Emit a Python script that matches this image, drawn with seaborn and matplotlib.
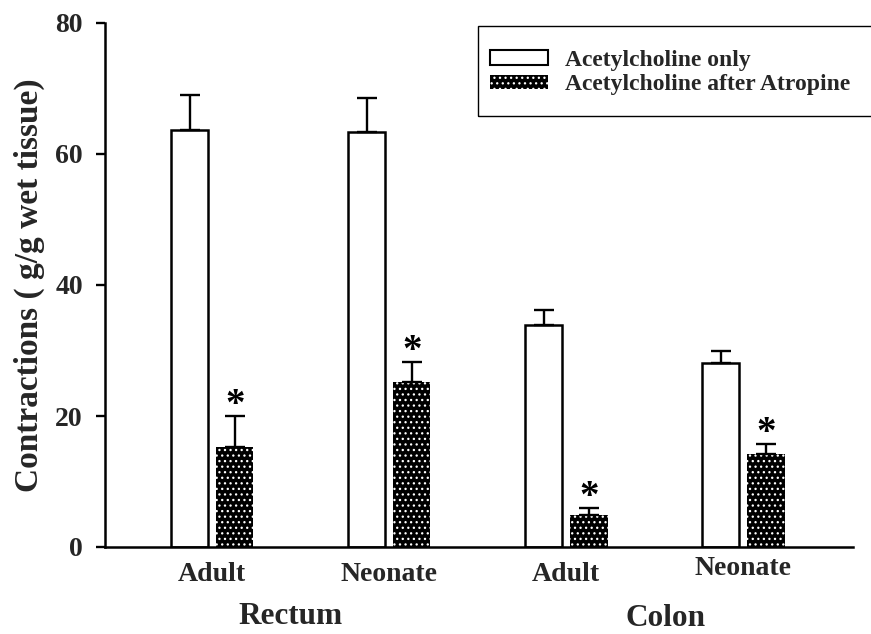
import matplotlib
matplotlib.use("Agg")
import matplotlib.pyplot as plt
import seaborn as sns
import pandas as pd
from matplotlib.patches import Patch, Rectangle

# ---- data ----
categories = ["Rectum Adult", "Rectum Neonate", "Colon Adult", "Colon Neonate"]
tick_labels = ["Adult", "Neonate", "Adult", "Neonate"]
series_names = ["Acetylcholine only", "Acetylcholine after Atropine"]
ach_only = [63.7, 63.4, 33.9, 28.1]
ach_only_err = [5.3, 5.1, 2.3, 1.8]
ach_atropine = [15.3, 25.2, 4.9, 14.2]
ach_atropine_err = [4.7, 3.0, 1.0, 1.5]
significant = [True, True, True, True]
group_names = ["Rectum", "Colon"]
group_centers = [0.44, 2.56]
y_ticks = [0, 20, 40, 60, 80]
y_label = "Contractions ( g/g wet tissue)"

df = pd.DataFrame({
    "segment": categories * 2,
    "treatment": [series_names[0]] * 4 + [series_names[1]] * 4,
    "value": ach_only + ach_atropine,
})

sns.set_theme(style="ticks")
plt.rcParams["font.family"] = ["Liberation Serif", "DejaVu Serif"]
plt.rcParams["font.weight"] = "bold"
plt.rcParams["hatch.linewidth"] = 0.9

W, H = 871, 634
fig = plt.figure(figsize=(W / 100, H / 100), dpi=100)
ax = fig.add_axes([105 / W, 87 / H, (853 - 105) / W, (547 - 23) / H])

sns.barplot(data=df, x="segment", y="value", hue="treatment", order=categories,
            hue_order=series_names, palette=["white", "black"], errorbar=None,
            width=0.51, gap=0.17, edgecolor="black", linewidth=1.5,
            legend=False, ax=ax, saturation=1)

open_bars, hatched_bars = ax.containers[0], ax.containers[1]
for p in hatched_bars:
    p.set_facecolor("black")
    p.set_edgecolor("white")
    p.set_linewidth(0)
    p.set_hatch("...")
for p in open_bars:
    p.set_facecolor("white")
    p.set_edgecolor("black")
    p.set_linewidth(1.8)

def bar_x(p):
    return p.get_x() + p.get_width() / 2

for bars, vals, errs in [(open_bars, ach_only, ach_only_err),
                          (hatched_bars, ach_atropine, ach_atropine_err)]:
    xs = [bar_x(p) for p in bars]
    ax.errorbar(xs, vals, yerr=[[0] * len(errs), errs], fmt="none",
                ecolor="black", elinewidth=1.7, capsize=7, capthick=1.7, zorder=1)

for p, v, e, s in zip(hatched_bars, ach_atropine, ach_atropine_err, significant):
    if s:
        ax.text(bar_x(p), v + e + 0.2, "*", ha="center", va="baseline",
                fontsize=28, fontweight="bold", color="black")

ax.set_xlim(-0.605, 3.62)
ax.set_ylim(0, 80)
ax.set_yticks(y_ticks)
ax.set_yticklabels([str(t) for t in y_ticks], fontsize=20, fontweight="bold")
ax.set_xticks(range(len(categories)))
ax.set_xticklabels(tick_labels, fontsize=20, fontweight="bold")
ax.tick_params(axis="y", length=6.5, width=1.7, pad=9.5, color="black")
ax.tick_params(axis="x", length=0, pad=11)
ax.get_xticklabels()[3].set_y(0.012)
ax.set_xlabel("")
ax.set_ylabel(y_label, fontsize=24, fontweight="bold", labelpad=7)
for side in ["top", "right"]:
    ax.spines[side].set_visible(False)
for side in ["left", "bottom"]:
    ax.spines[side].set_linewidth(1.8)
    ax.spines[side].set_color("black")

for name, cx, gy in zip(group_names, group_centers, [-0.133, -0.137]):
    ax.text(cx, gy, name, transform=ax.get_xaxis_transform(), ha="center",
            va="center", fontsize=22.5, fontweight="bold")

handles = [Patch(facecolor="white", edgecolor="black", linewidth=1.5),
           Patch(facecolor="black", edgecolor="white", linewidth=0, hatch="...")]
leg = fig.legend(handles, series_names, loc="upper left",
                 bbox_to_anchor=(478 / W, 1 - 38 / H), bbox_transform=fig.transFigure,
                 frameon=False, borderaxespad=0, borderpad=0.5,
                 labelspacing=0.15, handlelength=2.45, handleheight=0.55,
                 handletextpad=0.72, prop={"weight": "bold", "size": 17})
fig.patches.append(Rectangle((478 / W, 1 - 116 / H), (W + 10 - 478) / W, 90 / H,
                             transform=fig.transFigure, fill=False,
                             edgecolor="black", linewidth=1.0, clip_on=False))

fig.savefig("out.png", dpi=100)
